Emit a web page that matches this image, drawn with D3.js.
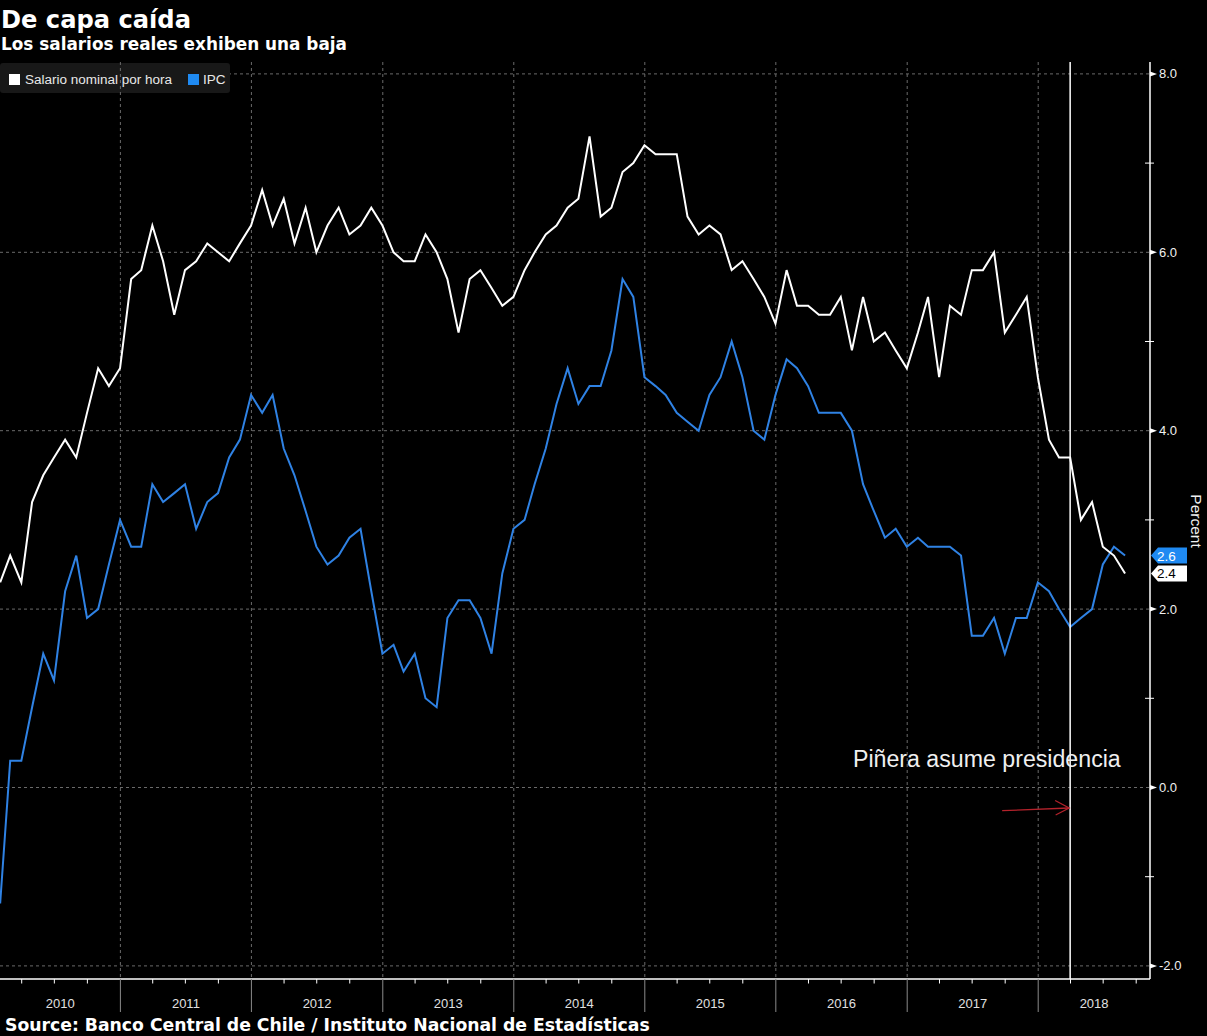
<!DOCTYPE html>
<html><head><meta charset="utf-8">
<script src="https://cdn.jsdelivr.net/npm/d3@7"></script>
<style>html,body{margin:0;padding:0;background:#000;} svg{display:block}</style>
</head><body><svg id="c" width="1207" height="1036"></svg>
<script>
// ---------- DATA ----------
const months = [
"2010-01","2010-02","2010-03","2010-04","2010-05","2010-06","2010-07","2010-08","2010-09","2010-10","2010-11","2010-12",
"2011-01","2011-02","2011-03","2011-04","2011-05","2011-06","2011-07","2011-08","2011-09","2011-10","2011-11","2011-12",
"2012-01","2012-02","2012-03","2012-04","2012-05","2012-06","2012-07","2012-08","2012-09","2012-10","2012-11","2012-12",
"2013-01","2013-02","2013-03","2013-04","2013-05","2013-06","2013-07","2013-08","2013-09","2013-10","2013-11","2013-12",
"2014-01","2014-02","2014-03","2014-04","2014-05","2014-06","2014-07","2014-08","2014-09","2014-10","2014-11","2014-12",
"2015-01","2015-02","2015-03","2015-04","2015-05","2015-06","2015-07","2015-08","2015-09","2015-10","2015-11","2015-12",
"2016-01","2016-02","2016-03","2016-04","2016-05","2016-06","2016-07","2016-08","2016-09","2016-10","2016-11","2016-12",
"2017-01","2017-02","2017-03","2017-04","2017-05","2017-06","2017-07","2017-08","2017-09","2017-10","2017-11","2017-12",
"2018-01","2018-02","2018-03","2018-04","2018-05","2018-06","2018-07","2018-08"];
const salario = [
2.3,2.6,2.3,3.2,3.5,3.7,3.9,3.7,4.2,4.7,4.5,4.7,
5.7,5.8,6.3,5.9,5.3,5.8,5.9,6.1,6.0,5.9,6.1,6.3,
6.7,6.3,6.6,6.1,6.5,6.0,6.3,6.5,6.2,6.3,6.5,6.3,
6.0,5.9,5.9,6.2,6.0,5.7,5.1,5.7,5.8,5.6,5.4,5.5,
5.8,6.0,6.2,6.3,6.5,6.6,7.3,6.4,6.5,6.9,7.0,7.2,
7.1,7.1,7.1,6.4,6.2,6.3,6.2,5.8,5.9,5.7,5.5,5.2,
5.8,5.4,5.4,5.3,5.3,5.5,4.9,5.5,5.0,5.1,4.9,4.7,
5.1,5.5,4.6,5.4,5.3,5.8,5.8,6.0,5.1,5.3,5.5,4.6,
3.9,3.7,3.7,3.0,3.2,2.7,2.6,2.4];
const ipc = [
-1.3,0.3,0.3,0.9,1.5,1.2,2.2,2.6,1.9,2.0,2.5,3.0,
2.7,2.7,3.4,3.2,3.3,3.4,2.9,3.2,3.3,3.7,3.9,4.4,
4.2,4.4,3.8,3.5,3.1,2.7,2.5,2.6,2.8,2.9,2.2,1.5,
1.6,1.3,1.5,1.0,0.9,1.9,2.1,2.1,1.9,1.5,2.4,2.9,
3.0,3.4,3.8,4.3,4.7,4.3,4.5,4.5,4.9,5.7,5.5,4.6,
4.5,4.4,4.2,4.1,4.0,4.4,4.6,5.0,4.6,4.0,3.9,4.4,
4.8,4.7,4.5,4.2,4.2,4.2,4.0,3.4,3.1,2.8,2.9,2.7,
2.8,2.7,2.7,2.7,2.6,1.7,1.7,1.9,1.5,1.9,1.9,2.3,
2.2,2.0,1.8,1.9,2.0,2.5,2.7,2.6];
const seriesNames = ["Salario nominal por hora", "IPC"];
const yTicks = [-2, 0, 2, 4, 6, 8];
const yMinorTicks = [-1, 1, 3, 5, 7];
const years = [2010, 2011, 2012, 2013, 2014, 2015, 2016, 2017, 2018];
const eventMonth = "2018-03";
const titleText = "De capa caída";
const subtitleText = "Los salarios reales exhiben una baja";
const sourceText = "Source: Banco Central de Chile / Instituto Nacional de Estadísticas";
const annotationText = "Piñera asume presidencia";
const yAxisTitle = "Percent";

// ---------- LAYOUT ----------
const W = 1207, H = 1036;
const plotL = 0, plotR = 1150, plotT = 62, plotB = 979;
const WHITE = "#ffffff", BLUE = "#2f82e4", BLUE_TAG = "#1f8af2", GRID = "#6a6a6a";
const FONT = "'Liberation Sans', Arial, sans-serif";
const BOLD = "'DejaVu Sans', Verdana, sans-serif";

const parse = d3.timeParse("%Y-%m");
const monthEnd = s => d3.timeDay.offset(d3.timeMonth.offset(parse(s), 1), -1);
const dates = months.map(monthEnd);

const x = d3.scaleTime()
  .domain([new Date(2011, 0, 1), new Date(2018, 0, 1)])
  .range([120.4, 1038.2]);
const y = d3.scaleLinear().domain([-2, 8]).range([965.9, 73.9]);

const svg = d3.select("#c");
svg.append("rect").attr("width", W).attr("height", H).attr("fill", "#000");

function fit(sel, w) {
  const n = sel.node();
  const cur = n.getComputedTextLength();
  const fs = parseFloat(sel.attr("font-size"));
  if (cur > 0) sel.attr("font-size", fs * w / cur);
  return sel;
}

// title, subtitle
fit(svg.append("text").attr("x", 1).attr("y", 28).attr("font-family", BOLD).attr("font-weight", "bold")
  .attr("font-size", 24).attr("fill", WHITE).text(titleText), 190);
fit(svg.append("text").attr("x", 1).attr("y", 50).attr("font-family", BOLD).attr("font-weight", "bold")
  .attr("font-size", 17).attr("fill", WHITE).text(subtitleText), 346);

// horizontal grid
svg.append("g").selectAll("line").data(yTicks).join("line")
  .attr("x1", plotL).attr("x2", plotR)
  .attr("y1", d => y(d)).attr("y2", d => y(d))
  .attr("stroke", GRID).attr("stroke-width", 1).attr("stroke-dasharray", "3,3");

// legend box
const lg = svg.append("g");
lg.append("rect").attr("x", 0).attr("y", 63).attr("width", 230).attr("height", 30).attr("rx", 3)
  .attr("fill", "#181818");

// vertical grid (year starts)
const yearStarts = years.map(yr => new Date(yr, 0, 1)).filter(d => x(d) > plotL && x(d) < plotR);
svg.append("g").selectAll("line").data(yearStarts).join("line")
  .attr("x1", d => x(d)).attr("x2", d => x(d))
  .attr("y1", plotT).attr("y2", plotB)
  .attr("stroke", GRID).attr("stroke-width", 1).attr("stroke-dasharray", "3,3");

// legend items
lg.append("rect").attr("x", 9).attr("y", 74).attr("width", 11).attr("height", 11).attr("fill", WHITE);
fit(lg.append("text").attr("x", 25).attr("y", 84).attr("font-family", FONT).attr("font-size", 13.5)
  .attr("fill", "#e8e8e8").text(seriesNames[0]), 147);
lg.append("rect").attr("x", 188).attr("y", 74).attr("width", 11).attr("height", 11).attr("fill", BLUE_TAG);
lg.append("text").attr("x", 203).attr("y", 84).attr("font-family", FONT).attr("font-size", 13.5)
  .attr("fill", "#e8e8e8").text(seriesNames[1]);

// lines
const line = d3.line().x((d, i) => x(dates[i])).y(d => y(d));
svg.append("path").datum(ipc).attr("d", line).attr("fill", "none")
  .attr("stroke", BLUE).attr("stroke-width", 2).attr("stroke-linejoin", "miter");
svg.append("path").datum(salario).attr("d", line).attr("fill", "none")
  .attr("stroke", WHITE).attr("stroke-width", 2).attr("stroke-linejoin", "miter");

// event vertical line
const ev = monthEnd(eventMonth);
svg.append("line").attr("x1", x(ev)).attr("x2", x(ev)).attr("y1", plotT).attr("y2", plotB)
  .attr("stroke", WHITE).attr("stroke-width", 1.5);

// annotation text
fit(svg.append("text").attr("x", 853).attr("y", 767).attr("font-family", FONT).attr("font-size", 22)
  .attr("fill", "#f0f0f0").text(annotationText), 268);

// red arrow
const ax2 = x(ev) - 1, ay2 = y(-0.23), ax1 = ax2 - 67, ay1 = ay2 + 2.7;
svg.append("line").attr("x1", ax1).attr("y1", ay1).attr("x2", ax2).attr("y2", ay2)
  .attr("stroke", "#b3222b").attr("stroke-width", 1.3);
svg.append("path")
  .attr("d", `M${ax2 - 14},${ay2 - 7.5} L${ax2},${ay2} L${ax2 - 13.5},${ay2 + 7}`)
  .attr("fill", "none").attr("stroke", "#b3222b").attr("stroke-width", 1.3);

// right axis
const ra = svg.append("g");
ra.append("line").attr("x1", plotR).attr("x2", plotR).attr("y1", plotT).attr("y2", plotB)
  .attr("stroke", WHITE).attr("stroke-width", 1.5);
ra.selectAll("path.maj").data(yTicks).join("path").attr("class", "maj")
  .attr("d", d => `M${plotR},${y(d) - 2.5} L${plotR + 7},${y(d)} L${plotR},${y(d) + 2.5} Z`)
  .attr("fill", WHITE);
ra.selectAll("line.min").data(yMinorTicks).join("line").attr("class", "min")
  .attr("x1", plotR - 5).attr("x2", plotR + 4).attr("y1", d => y(d)).attr("y2", d => y(d))
  .attr("stroke", WHITE).attr("stroke-width", 1);
ra.selectAll("text").data(yTicks).join("text")
  .attr("x", plotR + 9).attr("y", d => y(d) + 4.5)
  .attr("font-family", FONT).attr("font-size", 13).attr("fill", "#f0f0f0")
  .text(d => d3.format(".1f")(d).replace("−", "-"));

// y axis title
svg.append("text").attr("transform", `translate(1191,521) rotate(90)`)
  .attr("text-anchor", "middle").attr("font-family", FONT).attr("font-size", 15.5)
  .attr("fill", "#f0f0f0").text(yAxisTitle);

// end value tags
function tag(v, fill, txtFill) {
  const cy = y(v);
  svg.append("path")
    .attr("d", `M${plotR + 1},${cy} L${plotR + 8},${cy - 8} L${plotR + 37},${cy - 8} L${plotR + 37},${cy + 8} L${plotR + 8},${cy + 8} Z`)
    .attr("fill", fill);
  svg.append("text").attr("x", plotR + 7).attr("y", cy + 5).attr("font-family", FONT)
    .attr("font-size", 13.5).attr("fill", txtFill).text(d3.format(".1f")(v));
}
tag(ipc[ipc.length - 1], BLUE_TAG, WHITE);
tag(salario[salario.length - 1], WHITE, "#000");

// bottom axis
const ba = svg.append("g");
ba.append("line").attr("x1", plotL).attr("x2", plotR).attr("y1", plotB).attr("y2", plotB)
  .attr("stroke", WHITE).attr("stroke-width", 1.5);
const quarters = d3.timeMonth.every(3).range(new Date(2010, 0, 1), new Date(2019, 0, 1))
  .filter(d => d.getMonth() !== 0 && x(d) > plotL && x(d) < plotR);
ba.selectAll("line.q").data(quarters).join("line").attr("class", "q")
  .attr("x1", d => x(d)).attr("x2", d => x(d)).attr("y1", plotB).attr("y2", plotB + 4.5)
  .attr("stroke", WHITE).attr("stroke-width", 1);
ba.selectAll("line.yr").data(yearStarts).join("line").attr("class", "yr")
  .attr("x1", d => x(d)).attr("x2", d => x(d)).attr("y1", plotB).attr("y2", 1012)
  .attr("stroke", "#8a8a8a").attr("stroke-width", 1);
ba.selectAll("text").data(years).join("text")
  .attr("x", yr => {
    const a = Math.max(plotL, x(new Date(yr, 0, 1)));
    const b = Math.min(plotR, x(new Date(yr + 1, 0, 1)));
    return (a + b) / 2;
  })
  .attr("y", 1008).attr("text-anchor", "middle").attr("font-family", FONT)
  .attr("font-size", 13).attr("fill", "#e0e0e0").text(d => d);

// source
fit(svg.append("text").attr("x", 5).attr("y", 1031).attr("font-family", BOLD).attr("font-weight", "bold")
  .attr("font-size", 17).attr("fill", WHITE).text(sourceText), 645);
</script>
</body></html>
